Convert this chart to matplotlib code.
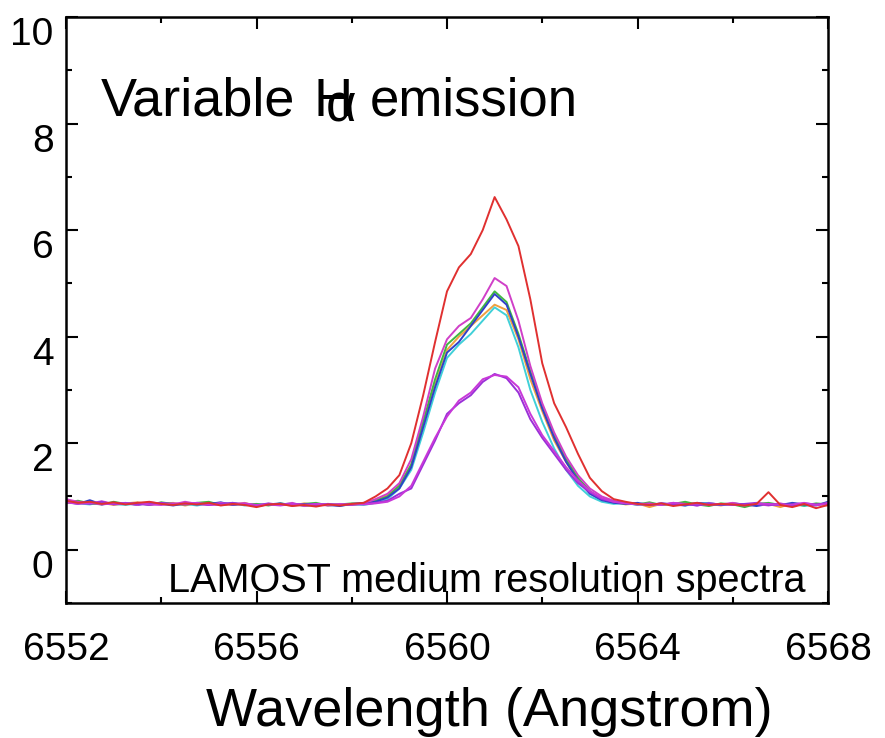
import numpy as np
import matplotlib
matplotlib.use("Agg")
import matplotlib.pyplot as plt
from matplotlib.ticker import MultipleLocator

plt.rcParams['font.family'] = ['Liberation Sans', 'DejaVu Sans']

# wavelength grid (Angstrom), 0.25 A sampling from 6552 to 6568
wave_start = 6552.0
wave_step = 0.25
n_pts = 65

red = [0.92,0.88,0.90,0.86,0.89,0.85,0.88,0.90,0.86,0.84,0.87,0.85,0.88,0.83,0.86,0.84,0.80,0.85,0.86,0.82,0.84,0.81,0.85,0.83,0.86,0.88,
       1.0,1.15,1.4,2.0,2.9,3.9,4.85,5.3,5.55,6.0,6.62,6.2,5.7,4.7,3.5,2.75,2.3,1.8,1.35,1.1,0.95,
       0.9,0.86,0.84,0.87,0.82,0.85,0.88,0.84,0.86,0.85,0.83,0.86,1.08,0.84,0.80,0.86,0.78,0.84]
magenta = [0.95,0.90,0.87,0.91,0.86,0.88,0.84,0.89,0.87,0.85,0.90,0.86,0.84,0.88,0.85,0.87,0.83,0.86,0.84,0.88,0.82,0.85,0.83,0.86,0.84,0.87,
           0.95,1.05,1.25,1.7,2.5,3.4,3.95,4.2,4.35,4.7,5.1,4.95,4.3,3.45,2.75,2.2,1.75,1.4,1.15,1.0,0.92,
           0.88,0.85,0.87,0.84,0.88,0.86,0.83,0.87,0.85,0.88,0.84,0.86,0.83,0.87,0.82,0.86,0.84,0.88]
green = [0.88,0.92,0.87,0.85,0.90,0.86,0.88,0.84,0.89,0.86,0.85,0.88,0.90,0.84,0.87,0.85,0.86,0.83,0.87,0.84,0.86,0.88,0.83,0.85,0.87,0.86,
         0.92,1.0,1.2,1.6,2.4,3.2,3.85,4.05,4.25,4.55,4.85,4.65,4.05,3.35,2.7,2.15,1.7,1.35,1.1,0.95,0.9,
         0.87,0.85,0.89,0.84,0.86,0.90,0.85,0.82,0.87,0.85,0.80,0.86,0.88,0.84,0.86,0.83,0.87,0.85]
blue = [0.90,0.86,0.93,0.85,0.88,0.87,0.84,0.88,0.86,0.83,0.87,0.85,0.86,0.89,0.84,0.86,0.82,0.85,0.87,0.83,0.85,0.86,0.84,0.82,0.86,0.88,
        0.9,0.98,1.15,1.55,2.3,3.05,3.7,3.9,4.2,4.5,4.8,4.6,4.0,3.3,2.65,2.1,1.65,1.3,1.05,0.93,0.88,
        0.86,0.88,0.84,0.87,0.85,0.83,0.88,0.86,0.84,0.87,0.85,0.82,0.86,0.84,0.88,0.85,0.83,0.90]
cyan = [0.93,0.87,0.85,0.89,0.86,0.84,0.87,0.86,0.88,0.84,0.86,0.83,0.87,0.85,0.88,0.83,0.86,0.84,0.85,0.87,0.82,0.84,0.86,0.83,0.85,0.84,
        0.88,0.95,1.15,1.5,2.2,2.95,3.6,3.85,4.05,4.3,4.55,4.4,3.8,3.0,2.4,1.9,1.5,1.2,1.0,0.9,0.86,
        0.88,0.84,0.86,0.85,0.87,0.83,0.86,0.88,0.84,0.86,0.83,0.87,0.85,0.84,0.86,0.82,0.85,0.87]
orange = [0.87,0.90,0.86,0.88,0.84,0.87,0.89,0.85,0.86,0.88,0.83,0.87,0.85,0.86,0.84,0.88,0.82,0.86,0.85,0.83,0.87,0.84,0.86,0.85,0.84,0.87,
          0.93,1.02,1.2,1.6,2.35,3.1,3.75,4.0,4.2,4.4,4.6,4.5,3.95,3.2,2.6,2.05,1.65,1.3,1.08,0.95,0.9,
          0.85,0.87,0.80,0.86,0.84,0.88,0.85,0.86,0.83,0.87,0.84,0.85,0.86,0.80,0.87,0.84,0.86,0.83]
purple = [0.91,0.88,0.86,0.90,0.85,0.87,0.86,0.84,0.88,0.86,0.85,0.87,0.84,0.86,0.88,0.85,0.83,0.87,0.84,0.86,0.85,0.83,0.86,0.84,0.85,0.86,
          0.88,0.92,1.05,1.15,1.6,2.05,2.55,2.75,2.9,3.15,3.3,3.22,2.95,2.45,2.1,1.8,1.5,1.25,1.08,0.95,0.9,
          0.88,0.86,0.84,0.87,0.85,0.86,0.83,0.87,0.85,0.84,0.86,0.88,0.84,0.85,0.83,0.87,0.85,0.86]
violet = [0.89,0.86,0.88,0.85,0.87,0.86,0.88,0.85,0.84,0.87,0.86,0.88,0.85,0.84,0.86,0.87,0.84,0.85,0.83,0.86,0.84,0.86,0.85,0.84,0.86,0.85,
          0.87,0.9,1.0,1.2,1.65,2.1,2.5,2.8,2.95,3.2,3.28,3.25,3.05,2.55,2.15,1.85,1.55,1.3,1.1,0.97,0.9,
          0.87,0.85,0.86,0.84,0.88,0.85,0.87,0.84,0.86,0.85,0.83,0.87,0.86,0.84,0.85,0.88,0.84,0.86]

series = [
    (orange, '#f0a040'),
    (cyan, '#40d0d8'),
    (green, '#40b840'),
    (blue, '#3040c8'),
    (magenta, '#d040c8'),
    (purple, '#9a30d8'),
    (violet, '#c838d8'),
    (red, '#e03030'),
]

wave = wave_start + wave_step * np.arange(n_pts)

fig = plt.figure(figsize=(8.85, 7.38), dpi=100)
ax = fig.add_axes([66/885, 1-603/738, (828-66)/885, (603-17)/738])

for vals, col in series:
    ax.plot(wave, vals, color=col, lw=1.4)

ax.set_xlim(6552, 6568)
ax.set_ylim(-1, 10)
ax.xaxis.set_major_locator(MultipleLocator(4))
ax.xaxis.set_minor_locator(MultipleLocator(2))
ax.yaxis.set_major_locator(MultipleLocator(2))
ax.yaxis.set_minor_locator(MultipleLocator(1))
ax.tick_params(which='both', direction='in', top=True, right=True, width=1.5)
ax.tick_params(which='major', length=8.5, labelsize=28)
ax.tick_params(which='minor', length=4.5)
ax.tick_params(axis='x', which='major', pad=21)
ax.tick_params(axis='y', which='major', pad=9)
for s in ax.spines.values():
    s.set_linewidth(1.8)

ax.set_xlabel('Wavelength (Angstrom)', fontsize=39, va='baseline')
ax.xaxis.set_label_coords(0.555, -(726-603)/586)

for lbl in ax.get_yticklabels():
    lbl.set_verticalalignment('top')

fig.text(101/885, 1-116/738, 'Variable', fontsize=39, ha='left', va='baseline')
fig.text(313/885, 1-116/738, 'H', fontsize=39, ha='left', va='baseline')
fig.text(326/885, 1-122/738, 'α', fontsize=38, ha='left', va='baseline')
fig.text(370/885, 1-116/738, 'emission', fontsize=38, ha='left', va='baseline')
ax.text((805-66)/762, (603-592)/586, 'LAMOST medium resolution spectra',
        transform=ax.transAxes, fontsize=28.5, ha='right', va='baseline')

fig.savefig('out.png', dpi=100)
